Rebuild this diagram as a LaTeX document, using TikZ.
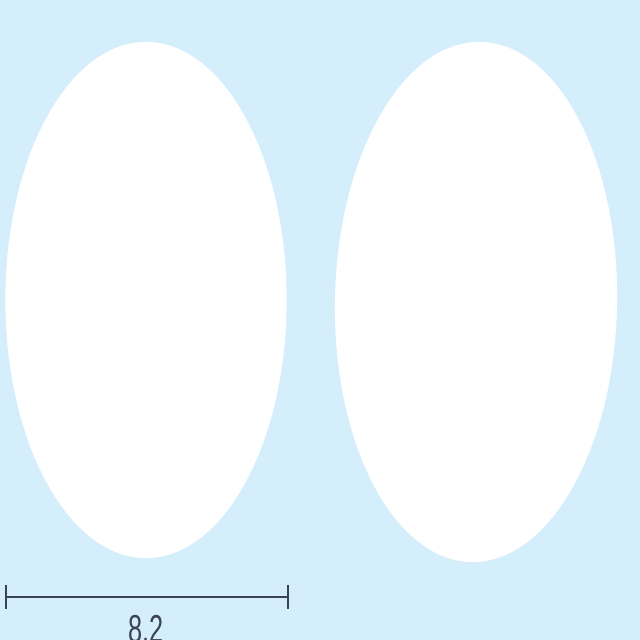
\documentclass[tikz,border=0pt]{standalone}
\usepackage{fontspec}
\setmainfont{Liberation Sans}
\usetikzlibrary{shapes.geometric}
\definecolor{skyback}{RGB}{213,238,252}
\definecolor{barink}{RGB}{58,66,86}

\begin{document}
\begin{tikzpicture}[x=0.025cm,y=-0.025cm,cell/.style={ellipse,fill=white,inner sep=0pt},scalebar/.style={barink,line width=1.2pt}]
	\fill[skyback] (0,0) rectangle (640,640);
	\useasboundingbox (0,0) rectangle (640,640);
	\node[cell,minimum width=7.03cm,minimum height=12.9cm] (leftcell) at (146,300) {};
	\node[cell,minimum width=7.05cm,minimum height=13cm,rotate=-1] (rightcell) at (476,302) {};
	\coordinate (barL) at (6,597);
	\coordinate (barR) at (288,597);
	\draw[scalebar] (barL) -- (barR);
	\foreach \c in {barL,barR} \draw[scalebar,line width=0.9pt] ([yshift=0.3cm]\c) -- ([yshift=-0.3cm]\c);
	\node[anchor=base,inner sep=0pt,xscale=0.65,text=barink,font=\fontsize{27.7}{30}\selectfont] (barlabel) at (146,642) {8.2};
\end{tikzpicture}
\end{document}
